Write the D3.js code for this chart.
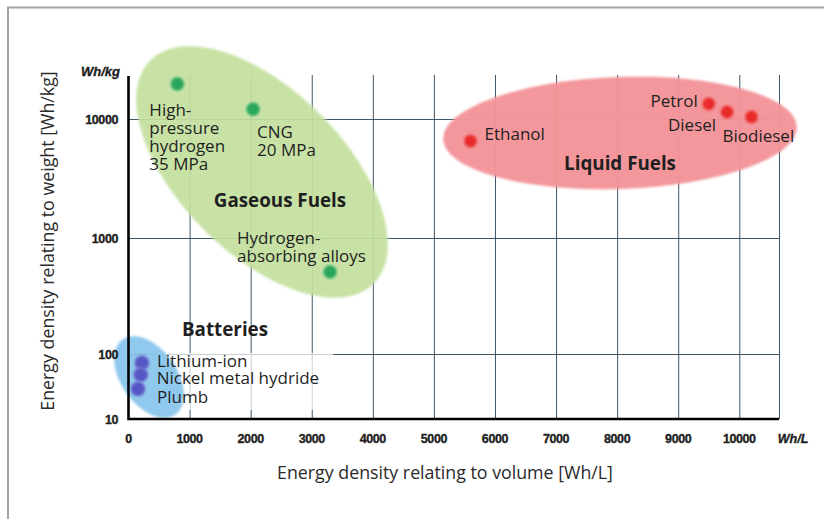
<!DOCTYPE html>
<html><head><meta charset="utf-8">
<script src="https://cdn.jsdelivr.net/npm/d3@7"></script>
<style>
html,body{margin:0;padding:0;background:#fff;}
svg{display:block;}
</style>
</head><body>
<svg id="chart" width="824" height="519"></svg>
<script>
// ---- data ----
const xTicks = [0,1000,2000,3000,4000,5000,6000,7000,8000,9000,10000];
const yTicks = [10,100,1000,10000];
const xUnit = "Wh/L";
const yUnit = "Wh/kg";
const xTitle = "Energy density relating to volume [Wh/L]";
const yTitle = "Energy density relating to weight [Wh/kg]";

const pointNames  = ["High-pressure hydrogen 35 MPa","CNG 20 MPa","Hydrogen-absorbing alloys",
                     "Ethanol","Petrol","Diesel","Biodiesel",
                     "Lithium-ion","Nickel metal hydride","Plumb"];
const pointVolume = [800, 2040, 3300, 5600, 9500, 9800, 10200, 220, 200, 155];
const pointWeight = [19700, 12100, 510, 6530, 13400, 11450, 10400, 73, 48, 29];
const pointGroup  = [0,0,0,1,1,1,1,2,2,2];

const groupNames  = ["Gaseous Fuels","Liquid Fuels","Batteries"];
const groupVolume = [2186, 8047, 336];
const groupWeight = [3590, 7630, 44.3];

// ---- layout / style ----
const svg = d3.select("#chart");
const xMaxVal = 10650, yTopVal = 23000;
const x = d3.scaleLinear().domain([0, xMaxVal]).range([128.5, 779]);
const y = d3.scaleLog().domain(yTicks).range([419, 354, 238, 119]);

const groupFill = ["#c4e09f","#f39499","#86c5ec"];
const groupShape = [ {rx:158, ry:82, rot:45}, {rx:177, ry:56, rot:-2}, {rx:46, ry:28, rot:55} ];
const groupTitleOff = [[18,35],[0,37],[76,-41]];
const pointFill = ["#2aa65b","#ea2a2c","#5558c4"];
const pointStroke = ["#5bbf7a","#f06a6a","#777cd2"];

const labelFont = "'Open Sans', sans-serif";
const tickFont = "'Liberation Sans', Arial, sans-serif";

// label lines and offsets relative to the point
const labelLines = [["High-","pressure","hydrogen","35 MPa"],["CNG","20 MPa"],["Hydrogen-","absorbing alloys"],
  ["Ethanol"],["Petrol"],["Diesel"],["Biodiesel"],["Lithium-ion"],["Nickel metal hydride"],["Plumb"]];
const labelOff = [[-28,32,"start"],[4,29,"start"],[-93,-28,"start"],[14,-1,"start"],[-11,3,"end"],
  [-11,19,"end"],[-29,25,"start"],[15,4,"start"],[16,9,"start"],[19,14,"start"]];

// frame
svg.append("line").attr("x1",7).attr("x2",824).attr("y1",7.5).attr("y2",7.5).attr("stroke","#a3a3a3").attr("stroke-width",2);
svg.append("line").attr("x1",8).attr("x2",8).attr("y1",7).attr("y2",519).attr("stroke","#a3a3a3").attr("stroke-width",2);

const defs = svg.append("defs");
defs.append("filter").attr("id","soft").append("feGaussianBlur").attr("stdDeviation",0.8);
const glow = defs.append("filter").attr("id","glow").attr("x","-50%").attr("y","-50%").attr("width","200%").attr("height","200%");
glow.append("feGaussianBlur").attr("stdDeviation",0.9);

const yTopPx = y(yTopVal);
const gridColor = "#3f5667";

// vertical gridlines
const gx = svg.append("g").attr("transform",`translate(0,${y(10)})`)
  .call(d3.axisBottom(x).tickValues(xTicks.slice(1).concat([xMaxVal])).tickSize(-(y(10)-yTopPx+1)).tickFormat(""));
gx.select(".domain").remove();
gx.selectAll("line").attr("stroke",gridColor).attr("stroke-width",1);

// horizontal gridlines
const gy = svg.append("g").attr("transform",`translate(${x(0)},0)`)
  .call(d3.axisLeft(y).tickValues(yTicks.slice(1)).tickSize(-(x(xMaxVal)-x(0))).tickFormat(""));
gy.select(".domain").remove();
gy.selectAll("line").attr("stroke",gridColor).attr("stroke-width",1);

// white backing box behind battery labels
svg.append("rect")
  .attr("x", x(pointVolume[7]) + 13).attr("y", y(pointWeight[7]) - 10)
  .attr("width", 178).attr("height", 57)
  .attr("fill","#fff").attr("opacity",0.72);

// group ellipses
svg.append("g").selectAll("ellipse").data(groupNames).join("ellipse")
  .attr("cx",0).attr("cy",0)
  .attr("rx",(d,i)=>groupShape[i].rx).attr("ry",(d,i)=>groupShape[i].ry)
  .attr("transform",(d,i)=>`translate(${x(groupVolume[i])},${y(groupWeight[i])}) rotate(${groupShape[i].rot})`)
  .attr("fill",(d,i)=>groupFill[i]).attr("opacity",(d,i)=> i===1?0.97:0.92)
  .attr("filter","url(#soft)");

// axes lines
svg.append("path")
  .attr("d",`M${x(0)},${yTopPx}V${y(10)}H${x(xMaxVal)}`)
  .attr("fill","none").attr("stroke","#000").attr("stroke-width",2.6);

// tick labels
const tickStyle = sel => sel.attr("font-family",tickFont).attr("font-weight","bold").attr("font-size",12.5)
  .attr("fill","#1e1e1e").attr("stroke","#1e1e1e").attr("stroke-width",0.35);
svg.append("g").selectAll("text").data(xTicks).join("text")
  .attr("x",d=>x(d)).attr("y",443).attr("text-anchor","middle")
  .call(tickStyle).attr("letter-spacing",-0.4).text(d=>d);
svg.append("text").attr("x",x(xMaxVal)+14).attr("y",443).attr("text-anchor","middle")
  .call(tickStyle).attr("font-style","italic").text(xUnit);
svg.append("g").selectAll("text").data(yTicks).join("text")
  .attr("x",118).attr("y",d=>y(d)+4.5).attr("text-anchor","end")
  .call(tickStyle).attr("letter-spacing",-0.4).text(d=>d);
svg.append("text").attr("x",120).attr("y",yTopPx).attr("text-anchor","end")
  .call(tickStyle).attr("font-size",13).attr("font-style","italic").text(yUnit);

// axis titles
svg.append("text").attr("x",445).attr("y",479).attr("text-anchor","middle")
  .attr("font-family",labelFont).attr("font-size",17.8).attr("fill","#2a2a2a").text(xTitle);
svg.append("text").attr("transform",`translate(54,241) rotate(-90)`).attr("text-anchor","middle")
  .attr("font-family",labelFont).attr("font-size",17.8).attr("fill","#2a2a2a").text(yTitle);

// points
svg.append("g").selectAll("circle").data(pointNames).join("circle")
  .attr("cx",(d,i)=>x(pointVolume[i])).attr("cy",(d,i)=>y(pointWeight[i]))
  .attr("r",(d,i)=> pointGroup[i]===2 ? 7 : 6.5)
  .attr("fill",(d,i)=>pointFill[pointGroup[i]])
  .attr("stroke",(d,i)=>pointStroke[pointGroup[i]]).attr("stroke-width",1.2)
  .attr("filter","url(#glow)");

// point labels
const lg = svg.append("g").attr("font-family",labelFont).attr("font-size",17).attr("fill","#1f1f1f");
pointNames.forEach((n,i)=>{
  const px = x(pointVolume[i]) + labelOff[i][0];
  const py = y(pointWeight[i]) + labelOff[i][1];
  const t = lg.append("text").attr("x",px).attr("y",py).attr("text-anchor",labelOff[i][2]);
  labelLines[i].forEach((ln,k)=>{
    t.append("tspan").attr("x",px).attr("y",py + k*18).text(ln);
  });
});

// group titles
svg.append("g").selectAll("text").data(groupNames).join("text")
  .attr("x",(d,i)=>x(groupVolume[i])+groupTitleOff[i][0])
  .attr("y",(d,i)=>y(groupWeight[i])+groupTitleOff[i][1])
  .attr("text-anchor","middle")
  .attr("font-family",labelFont).attr("font-weight","bold").attr("font-size",18.8)
  .attr("fill","#1f1f1f").text(d=>d);
</script>
</body></html>
